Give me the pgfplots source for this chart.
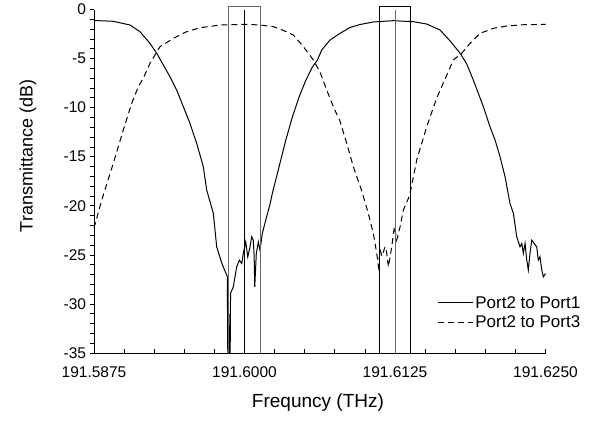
\documentclass[border=0pt]{standalone}
\usepackage{pgfplots}
\pgfplotsset{compat=1.18}
\usepackage{fontspec}
\setmainfont{Liberation Sans}
\begin{document}
\begin{tikzpicture}
\begin{axis}[
  scale only axis,
  width=451.5pt, height=343.5pt,
  xmin=191.5875, xmax=191.625,
  ymin=-35, ymax=0,
  clip=false,
  axis x line*=bottom, axis y line*=left,
  xtick={191.5875,191.6,191.6125,191.625},
  xticklabels={191.5875,191.6000,191.6125,191.6250},
  ytick={-35,-30,-25,-20,-15,-10,-5,0},
  yticklabels={-35,-30,-25,-20,-15,-10,-5,0},
  minor x tick num=4, minor y tick num=4,
  tick align=outside,
  major tick length=4.5pt, minor tick length=4.5pt,
  x tick style={yshift=4.5pt},
  tick style={black, line width=0.7pt},
  axis line style={black, line width=0.8pt},
  tick label style={font=\fontsize{15.5}{18}\selectfont},
  xticklabel style={yshift=-6pt},
  xlabel={Frequncy (THz)}, ylabel={Transmittance (dB)},
  xlabel style={font=\fontsize{19}{22}\selectfont, at={(axis description cs:0.496,-0.1456)}, anchor=center},
  ylabel style={font=\fontsize{18}{22}\selectfont, at={(axis description cs:-0.146,0.5735)}, anchor=center},
  legend style={at={(axis description cs:0.76,0.172)}, anchor=north west, draw=none, fill=none,
    font=\fontsize{17}{20}\selectfont, inner sep=0pt, row sep=2pt},
  legend cell align=left,
  legend image code/.code={\draw[#1] (0pt,0pt) -- (35pt,0pt);},
]
\addplot[black, line width=1pt] coordinates {
(191.5875,-1.12) (191.58910,-1.20) (191.59049,-1.58) (191.59132,-2.26) (191.59215,-3.45)
(191.59271,-4.46) (191.59326,-5.66) (191.59381,-6.85) (191.59437,-8.21) (191.59492,-9.91)
(191.59547,-11.60) (191.59603,-13.64) (191.59658,-16.02) (191.59686,-18.40) (191.59741,-20.77)
(191.59769,-24.18) (191.59811,-25.84) (191.59852,-27.06) (191.59857,-27.2) (191.59861,-35)
(191.59867,-35) (191.59870,-31.0) (191.59874,-35) (191.59881,-35) (191.59884,-28.9)
(191.59907,-28.26) (191.59935,-26.22) (191.59957,-25.54) (191.59977,-25.87) (191.59990,-24.85)
(191.60010,-23.67) (191.60027,-25.20) (191.60046,-24.18) (191.60060,-23.16) (191.60073,-23.50)
(191.60080,-25.10) (191.60085,-28.26) (191.60098,-24.85) (191.60115,-23.67) (191.60129,-24.52)
(191.60148,-22.81) (191.60176,-21.46) (191.60210,-19.93) (191.60231,-18.74) (191.60287,-16.02)
(191.60343,-13.30) (191.60398,-10.93) (191.60454,-8.89) (191.60510,-7.19) (191.60565,-5.83)
(191.60606,-5.15) (191.60641,-4.13) (191.60710,-3.11) (191.60793,-2.43) (191.60876,-1.83)
(191.60959,-1.53) (191.61070,-1.27) (191.61236,-1.14) (191.61402,-1.24) (191.61513,-1.48)
(191.61624,-2.09) (191.61707,-3.20) (191.61790,-4.45) (191.61846,-5.55) (191.61900,-7.19)
(191.61942,-8.54) (191.61984,-9.91) (191.62039,-11.95) (191.62081,-13.30) (191.62122,-15.00)
(191.62164,-17.04) (191.62205,-19.76) (191.62233,-20.77) (191.62261,-23.16) (191.62288,-24.18)
(191.62303,-23.83) (191.62316,-24.85) (191.62330,-23.83) (191.62344,-25.50) (191.62357,-26.55)
(191.62371,-24.85) (191.62386,-23.50) (191.62405,-23.83) (191.62427,-24.18) (191.62440,-25.54)
(191.62454,-25.20) (191.62469,-26.55) (191.62482,-27.24) (191.62500,-26.90)
};
\addlegendentry{Port2 to Port1}
\addplot[black, line width=1pt, dash pattern=on 6pt off 4pt] coordinates {
(191.5875,-22.27) (191.58814,-19.42) (191.58910,-15.68) (191.58993,-12.28) (191.59063,-9.56)
(191.59118,-7.87) (191.59159,-7.01) (191.59215,-5.48) (191.59298,-3.79) (191.59409,-2.94)
(191.59520,-2.26) (191.59630,-1.86) (191.59797,-1.58) (191.60018,-1.51) (191.60129,-1.58)
(191.60239,-1.75) (191.60295,-1.99) (191.60351,-2.29) (191.60406,-2.60) (191.60489,-3.79)
(191.60572,-5.15) (191.60627,-6.37) (191.60683,-8.21) (191.60738,-9.91) (191.60793,-11.37)
(191.60849,-13.64) (191.60904,-16.02) (191.60974,-18.50) (191.61028,-20.77) (191.61070,-22.81)
(191.61098,-24.85) (191.61112,-26.22) (191.61126,-24.52) (191.61142,-25.13) (191.61167,-24.18)
(191.61180,-24.70) (191.61195,-26.22) (191.61223,-24.18) (191.61237,-22.81) (191.61245,-22.14)
(191.61264,-23.50) (191.61292,-22.14) (191.61319,-20.44) (191.61361,-19.25) (191.61375,-18.74)
(191.61430,-15.34) (191.61513,-11.95) (191.61596,-9.02) (191.61680,-6.68) (191.61734,-5.15)
(191.61804,-4.46) (191.61873,-3.45) (191.61956,-2.43) (191.62066,-1.92) (191.62178,-1.68)
(191.62316,-1.55) (191.62500,-1.51)
};
\addlegendentry{Port2 to Port3}
\addplot[gray!80!black, line width=0.8pt, forget plot] coordinates {
(191.5987,-35) (191.5987,0.27) (191.6013,0.27) (191.6013,-35)};
\addplot[black, line width=0.8pt, forget plot] coordinates {(191.6,-35) (191.6,0)};
\addplot[black, line width=0.8pt, forget plot] coordinates {
(191.6112,-35) (191.6112,0.27) (191.6138,0.27) (191.6138,-35)};
\addplot[gray!80!black, line width=0.8pt, forget plot] coordinates {(191.6125,-35) (191.6125,0)};
\path (axis description cs:-0.2082,-0.198) rectangle (axis description cs:1.1406,1.0277);
\end{axis}
\end{tikzpicture}
\end{document}
